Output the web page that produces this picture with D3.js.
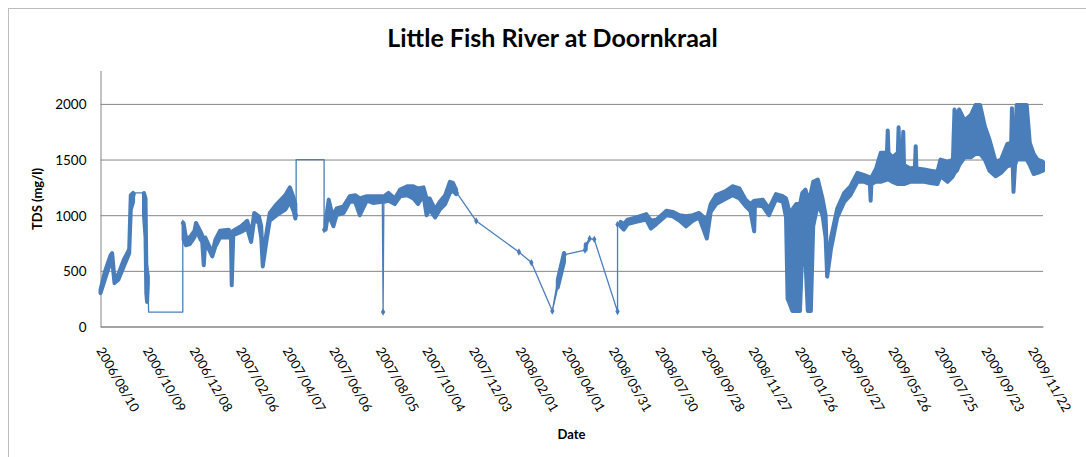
<!DOCTYPE html>
<html><head><meta charset="utf-8">
<script src="https://cdn.jsdelivr.net/npm/d3@7"></script>
<style>
html,body{margin:0;padding:0;background:#fff;}
svg{display:block;font-family:Lato,"Open Sans",sans-serif;}
</style>
</head><body>
<svg id="chart" width="1086" height="457"></svg>
<script>
const chartTitle = "Little Fish River at Doornkraal";
const yAxisTitle = "TDS (mg/l)";
const xAxisTitle = "Date";
const yTickValues = [0, 500, 1000, 1500, 2000];
const xTickLabels = ["2006/08/10","2006/10/09","2006/12/08","2007/02/06","2007/04/07","2007/06/06",
  "2007/08/05","2007/10/04","2007/12/03","2008/02/01","2008/04/01","2008/05/31","2008/07/30",
  "2008/09/28","2008/11/27","2009/01/26","2009/03/27","2009/05/26","2009/07/25","2009/09/23","2009/11/22"];
const dateRange = ["2006-08-10", "2009-12-06"];
// TDS readings: [date, low of day, high of day] (mg/l)
const tdsReadings = [
["2006-08-10",300,330],["2006-08-16",430,500],["2006-08-23",580,640],["2006-08-25",600,660],
["2006-08-28",390,430],["2006-09-02",420,470],["2006-09-09",540,600],["2006-09-15",640,680],
["2006-09-16",660,700],["2006-09-18",1050,1180],["2006-09-21",1120,1200],["2006-09-24",1200,1200],
["2006-10-03",1200,1200],["2006-10-05",1000,1200],["2006-10-07",800,1150],["2006-10-08",300,560],
["2006-10-09",220,500],["2006-10-10",380,450],["2006-10-11",130,130],["2006-11-24",130,130],
["2006-11-24",930,930],["2006-11-25",780,930],["2006-11-28",730,800],["2006-12-03",740,800],
["2006-12-09",800,860],["2006-12-11",870,930],["2006-12-17",780,850],["2006-12-19",760,820],
["2006-12-21",550,700],["2006-12-23",760,800],["2007-01-01",630,660],["2007-01-05",720,780],
["2007-01-11",800,860],["2007-01-22",800,870],["2007-01-25",820,840],["2007-01-26",370,820],
["2007-01-28",820,860],["2007-02-07",850,900],["2007-02-15",880,950],["2007-02-20",760,820],
["2007-02-24",960,1020],["2007-03-02",930,990],["2007-03-05",800,900],["2007-03-07",540,600],
["2007-03-12",780,850],["2007-03-16",950,1020],["2007-03-25",1000,1100],["2007-04-05",1050,1180],
["2007-04-11",1120,1250],["2007-04-16",1030,1150],["2007-04-18",970,1100],["2007-04-19",1000,1000],
["2007-04-19",1500,1500],["2007-05-25",1500,1500],["2007-05-25",870,870],["2007-05-27",870,950],
["2007-05-31",1050,1140],["2007-06-03",950,1050],["2007-06-06",900,1000],["2007-06-10",1000,1060],
["2007-06-19",1020,1080],["2007-06-27",1120,1170],["2007-07-04",1120,1180],["2007-07-10",1000,1150],
["2007-07-19",1130,1170],["2007-07-27",1110,1170],["2007-08-08",1120,1170],["2007-08-09",130,130],
["2007-08-10",1120,1170],["2007-08-16",1130,1200],["2007-08-24",1100,1150],["2007-08-31",1170,1230],
["2007-09-09",1180,1260],["2007-09-17",1150,1260],["2007-09-23",1100,1240],["2007-09-30",1180,1250],
["2007-10-04",1000,1150],["2007-10-08",1050,1150],["2007-10-15",980,1050],["2007-10-21",1050,1120],
["2007-10-28",1100,1180],["2007-11-03",1200,1300],["2007-11-07",1220,1290],["2007-11-11",1190,1230],
["2007-11-12",1200,1200],["2007-12-07",947,947],["2008-01-31",669,669],["2008-02-16",574,574],
["2008-03-14",140,140],["2008-03-21",350,420],["2008-03-29",580,660],["2008-03-30",645,645],
["2008-04-25",687,687],["2008-04-26",690,740],["2008-05-01",789,789],["2008-05-07",783,783],
["2008-06-06",134,134],["2008-06-06",917,917],["2008-06-10",900,940],["2008-06-14",870,920],
["2008-06-19",920,960],["2008-06-30",940,980],["2008-07-13",960,1010],["2008-07-19",880,950],
["2008-07-26",920,960],["2008-08-08",1000,1040],["2008-08-16",990,1030],["2008-08-25",950,1000],
["2008-09-02",900,990],["2008-09-11",950,1000],["2008-09-19",980,1020],["2008-09-29",790,960],
["2008-10-04",1030,1100],["2008-10-11",1100,1180],["2008-10-24",1150,1220],["2008-11-01",1180,1260],
["2008-11-10",1150,1240],["2008-11-18",1080,1140],["2008-11-24",1040,1100],["2008-11-29",855,1130],
["2008-11-30",1090,1130],["2008-12-10",1080,1140],["2008-12-18",1000,1060],["2008-12-27",1140,1190],
["2009-01-05",1120,1170],["2009-01-09",980,1150],["2009-01-11",250,1100],["2009-01-14",200,1000],
["2009-01-17",140,1050],["2009-01-22",140,1100],["2009-01-27",140,1100],["2009-01-30",700,1200],
["2009-02-03",600,1230],["2009-02-06",140,1150],["2009-02-10",140,1200],["2009-02-13",900,1300],
["2009-02-19",1100,1320],["2009-02-25",1000,1150],["2009-03-01",800,1000],["2009-03-03",448,520],
["2009-03-08",700,800],["2009-03-16",980,1060],["2009-03-25",1120,1200],["2009-04-02",1180,1260],
["2009-04-11",1300,1380],["2009-04-20",1300,1360],["2009-04-27",1280,1340],["2009-04-28",1130,1340],
["2009-04-29",1280,1340],["2009-05-05",1300,1420],["2009-05-11",1300,1560],["2009-05-19",1320,1560],
["2009-05-20",1320,1760],["2009-05-21",1320,1560],["2009-05-26",1300,1520],["2009-06-02",1280,1560],
["2009-06-03",1280,1790],["2009-06-04",1280,1560],["2009-06-08",1280,1520],["2009-06-09",1280,1750],
["2009-06-10",1280,1450],["2009-06-18",1300,1420],["2009-06-24",1300,1430],["2009-06-25",1300,1620],
["2009-06-26",1300,1420],["2009-07-06",1300,1410],["2009-07-14",1290,1400],["2009-07-23",1280,1390],
["2009-07-27",1350,1500],["2009-08-05",1300,1480],["2009-08-12",1350,1500],["2009-08-14",1380,1950],
["2009-08-17",1400,1880],["2009-08-20",1450,1950],["2009-08-27",1520,1850],["2009-09-04",1520,1900],
["2009-09-10",1550,1990],["2009-09-16",1550,1990],["2009-09-22",1500,1800],["2009-09-28",1400,1680],
["2009-10-06",1350,1480],["2009-10-13",1380,1500],["2009-10-21",1440,1640],["2009-10-26",1450,1650],
["2009-10-27",1450,1960],["2009-10-28",1450,1650],["2009-10-29",1210,1500],["2009-10-31",1450,1600],
["2009-11-02",1500,1990],["2009-11-09",1500,1990],["2009-11-15",1500,1990],["2009-11-19",1450,1650],
["2009-11-24",1370,1550],["2009-11-29",1380,1500],["2009-12-06",1400,1480]
];

const parseISO = d3.timeParse("%Y-%m-%d");
const parseLabel = d3.timeParse("%Y/%m/%d");
const fmtLabel = d3.timeFormat("%Y/%m/%d");
const data = tdsReadings.map(r => ({date: parseISO(r[0]), lo: r[1], hi: r[2]}));

const svg = d3.select("#chart");
const blue = "#4a7ebb", grey = "#868686";

// chart area frame
svg.append("rect").attr("x", 8.5).attr("y", 8.5).attr("width", 1200).attr("height", 600)
  .attr("fill", "#fff").attr("stroke", "#bdbdbd").attr("stroke-width", 1);

const x = d3.scaleTime().domain(dateRange.map(parseISO)).range([100.5, 1043]);
const y = d3.scaleLinear().domain([0, 2300]).range([326.5, 70.5]);

// gridlines
svg.append("g").attr("transform", "translate(100.5,0)")
  .call(d3.axisLeft(y).tickValues(yTickValues).tickSize(-(1043 - 100.5)).tickFormat(""))
  .call(g => g.select(".domain").remove())
  .call(g => g.selectAll("line").attr("stroke", grey).attr("stroke-width", 1));

// y axis
svg.append("g").attr("transform", "translate(100.5,0)")
  .call(d3.axisLeft(y).tickValues(yTickValues).tickSize(0).tickSizeOuter(0).tickPadding(14)
        .tickFormat(d3.format("d")))
  .call(g => g.select(".domain").attr("stroke", grey))
  .call(g => g.selectAll("text").attr("font-family", "Lato, sans-serif").attr("font-size", 13.5)
      .attr("fill", "#000").attr("dy", "0.36em"));

// x axis
svg.append("g").attr("transform", "translate(0,326.5)")
  .call(d3.axisBottom(x).tickValues(xTickLabels.map(parseLabel)).tickSize(0).tickSizeOuter(0).tickFormat(fmtLabel))
  .call(g => g.select(".domain").attr("stroke", grey))
  .call(g => g.selectAll("text").attr("font-family", "Lato, sans-serif").attr("font-size", 13)
      .attr("fill", "#000").attr("x", 0).attr("y", 0).attr("dy", 0)
      .attr("text-anchor", "start").attr("transform", "translate(-5,24) rotate(60)"));

// series: thin line through everything, thick band where readings are dense
const area = d3.area().x(d => x(d.date)).y0(d => y(d.lo)).y1(d => y(d.hi));
svg.append("path").datum(data).attr("d", area)
  .attr("fill", blue).attr("stroke", blue).attr("stroke-width", 1.3).attr("stroke-linejoin", "round");
const denseArea = d3.area().defined(d => d.lo !== d.hi)
  .x(d => x(d.date)).y0(d => y(d.lo)).y1(d => y(d.hi));
svg.append("path").datum(data).attr("d", denseArea)
  .attr("fill", blue).attr("stroke", blue).attr("stroke-width", 4).attr("stroke-linejoin", "round");

// markers at isolated single readings (not on flat stretches)
const singles = data.filter((d, i) => d.lo === d.hi &&
  !(i > 0 && data[i - 1].lo === d.lo && data[i - 1].hi === d.hi) &&
  !(i < data.length - 1 && data[i + 1].lo === d.lo && data[i + 1].hi === d.hi));
svg.append("g").selectAll("path").data(singles).join("path")
  .attr("transform", d => `translate(${x(d.date)},${y(d.lo)})`)
  .attr("d", d3.symbol().type(d3.symbolDiamond).size(16))
  .attr("fill", blue);

// titles
svg.append("text").attr("x", 552.5).attr("y", 47).attr("text-anchor", "middle")
  .attr("font-family", "Lato, sans-serif").attr("font-weight", "bold").attr("font-size", 25)
  .attr("fill", "#000").text(chartTitle);
svg.append("text").attr("transform", "translate(42,199) rotate(-90)").attr("text-anchor", "middle")
  .attr("font-family", "Lato, sans-serif").attr("font-weight", "bold").attr("font-size", 13)
  .attr("fill", "#000").text(yAxisTitle);
svg.append("text").attr("x", 571.5).attr("y", 439).attr("text-anchor", "middle")
  .attr("font-family", "Lato, sans-serif").attr("font-weight", "bold").attr("font-size", 13)
  .attr("fill", "#000").text(xAxisTitle);
</script>
</body></html>
